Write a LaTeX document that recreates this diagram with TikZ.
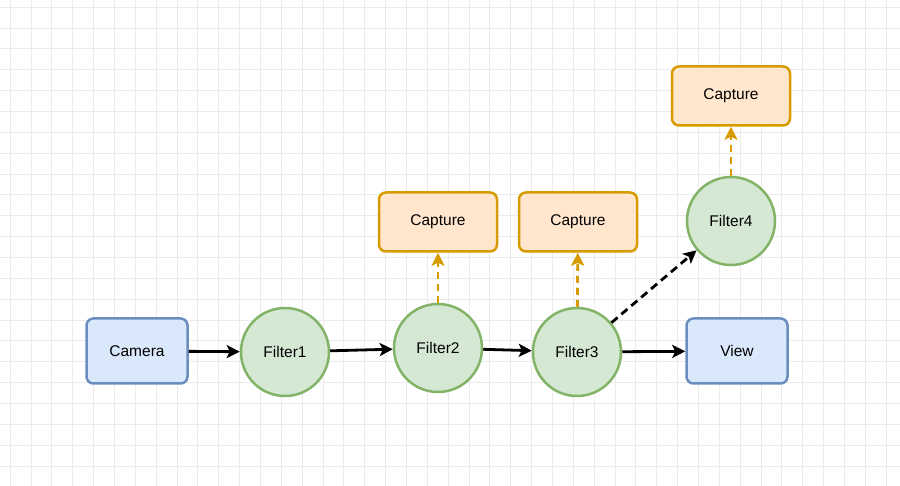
\documentclass[tikz,border=0pt]{standalone}
\usepackage{fontspec}
\setmainfont{Liberation Sans}
\usetikzlibrary{arrows.meta}

\definecolor{viewfill}{HTML}{DAE8FC}
\definecolor{viewline}{HTML}{6C8EBF}
\definecolor{filtfill}{HTML}{D5E8D4}
\definecolor{filtline}{HTML}{82B366}
\definecolor{capfill}{HTML}{FFE6CC}
\definecolor{capline}{HTML}{D79B00}

\begin{document}
\begin{tikzpicture}[x=1pt,y=-1pt,>={Stealth[length=13pt,width=13pt,inset=3pt]},
  font=\fontsize{15.5}{18}\selectfont,
  gridline/.style={draw=black!8,line width=0.7pt},
  endbox/.style={draw=viewline,fill=viewfill,line width=2.5pt,rounded corners=7pt,
    minimum width=101pt,minimum height=65pt},
  capbox/.style={draw=capline,fill=capfill,line width=2.5pt,rounded corners=7pt,
    minimum width=118pt,minimum height=59pt},
  filter/.style={circle,draw=filtline,fill=filtfill,line width=2.5pt,
    minimum size=88pt,inner sep=0pt},
  flow/.style={->,line width=2.8pt},
  tap/.style={->,draw=capline,line width=2.8pt,dash pattern=on 7pt off 5pt},
  branch/.style={->,line width=2.8pt,dash pattern=on 8pt off 5pt}]
  % paper and grid
  \fill[white] (0,0) rectangle (900,486);
  \useasboundingbox (0,0) rectangle (900,486);
  \foreach \i in {0,...,42} \draw[gridline] ({10+20.86*\i},0) -- ({10+20.86*\i},486);
  \foreach \j in {0,...,23} \draw[gridline] (0,{7+20.86*\j}) -- (900,{7+20.86*\j});

  % main chain
  \node[endbox] (cam) at (137,351) {Camera};
  \node[filter] (f1) at (285,352) {Filter1};
  \node[filter] (f2) at (438,348) {Filter2};
  \node[filter] (f3) at (577,352) {Filter3};
  \node[filter] (f4) at (731,221) {Filter4};
  \node[endbox] (view) at (737,351) {View};

  % captures
  \node[capbox] (cap2) at (438,222) {Capture};
  \node[capbox] (cap3) at (578,222) {Capture};
  \node[capbox] (cap4) at (731,96) {Capture};

  \draw[flow] (cam) -- (f1);
  \draw[flow] (f1) -- (f2);
  \draw[flow] (f2) -- (f3);
  \draw[flow] (f3) -- (view);
  \draw[branch] (f3) -- (f4);
  \draw[tap] (f2) -- (cap2);
  \draw[tap] (f3) -- (cap3);
  \draw[tap] (f4) -- (cap4);
\end{tikzpicture}
\end{document}
